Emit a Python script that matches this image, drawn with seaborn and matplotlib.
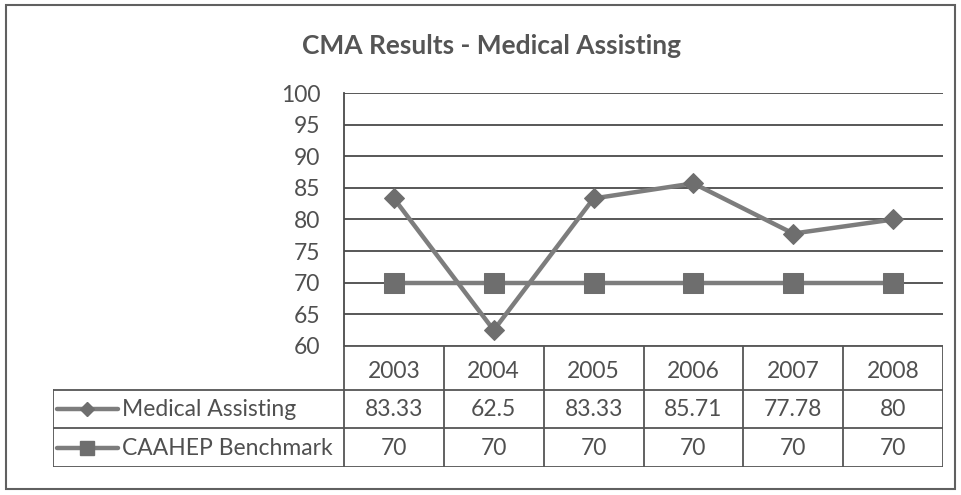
import matplotlib
matplotlib.use("Agg")
import matplotlib.pyplot as plt
import seaborn as sns
import pandas as pd
import numpy as np
from matplotlib.patches import Rectangle

years = ["2003", "2004", "2005", "2006", "2007", "2008"]
medical = [83.33, 62.5, 83.33, 85.71, 77.78, 80]
benchmark = [70, 70, 70, 70, 70, 70]
series_names = ["Medical Assisting", "CAAHEP Benchmark"]
yticks = [60, 65, 70, 75, 80, 85, 90, 95, 100]
title = "CMA Results - Medical Assisting"

sns.set_theme(style="white")
plt.rcParams["font.family"] = ["Lato", "DejaVu Sans"]

TXT = "#505050"
GRID = "#4a4a4a"
LINE = "#7d7d7d"
MARK = "#6e6e6e"
FS = 16.5

W, H = 961, 495
fig = plt.figure(figsize=(W / 100, H / 100), dpi=100)

def fx(px):
    return px / W

def fy(py):
    return 1 - py / H

# outer frame
fig.patches.append(Rectangle((fx(6), fy(489)), fx(955) - fx(6), fy(5) - fy(489),
                             transform=fig.transFigure, fill=False,
                             edgecolor="#606060", lw=1.5))

# main plot
left, right, top, bottom = 344, 943, 93, 346
ax = fig.add_axes([fx(left), fy(bottom), fx(right) - fx(left), fy(top) - fy(bottom)])
pos = np.arange(len(years))
df = pd.DataFrame({"pos": np.concatenate([pos, pos]),
                   "value": medical + benchmark,
                   "series": [series_names[0]] * len(years) + [series_names[1]] * len(years)})

for yv in yticks:
    ax.axhline(yv, color=GRID, lw=1.3, zorder=0)

sns.lineplot(data=df[df.series == series_names[1]], x="pos", y="value", ax=ax,
             color=LINE, lw=3.2, marker="s", markersize=14,
             markerfacecolor=MARK, markeredgecolor=MARK, legend=False, zorder=3)
sns.lineplot(data=df[df.series == series_names[0]], x="pos", y="value", ax=ax,
             color=LINE, lw=3.2, marker="D", markersize=10,
             markerfacecolor=MARK, markeredgecolor=MARK, legend=False, zorder=4)

ax.set_xlim(-0.5, len(years) - 0.5)
ax.set_ylim(60, 100)
ax.set_yticks(yticks)
ax.set_yticklabels([str(v) for v in yticks], fontsize=FS, color=TXT)
ax.set_xticks([])
ax.set_xlabel("")
ax.set_ylabel("")
ax.tick_params(axis="y", length=0, pad=17)
for s in ["top", "right", "bottom"]:
    ax.spines[s].set_visible(False)
ax.spines["left"].set_color(GRID)
ax.spines["left"].set_linewidth(1.3)
ax.patch.set_alpha(0)

fig.text(fx(491), fy(46), title, ha="center", va="center", fontsize=19,
         fontweight="bold", color="#555555")

# data table below
tleft, tbottom = 53, 467
cw = (right - left) / len(years)
L = (left - tleft) / cw
tx = fig.add_axes([fx(tleft), fy(tbottom), fx(right) - fx(tleft), fy(bottom) - fy(tbottom)])
tx.set_xlim(-0.5 - L, len(years) - 0.5)
tx.set_ylim(tbottom - bottom, 0)
tx.axis("off")
rows = [0, 44, 82, 121]
lc = "#555555"
lw = 1.3
tx.plot([-0.5, len(years) - 0.5], [rows[0], rows[0]], color=lc, lw=lw)
for r in rows[1:]:
    tx.plot([-0.5 - L, len(years) - 0.5], [r, r], color=lc, lw=lw)
for i in range(len(years) + 1):
    tx.plot([i - 0.5, i - 0.5], [rows[0], rows[3]], color=lc, lw=lw)
tx.plot([-0.5 - L, -0.5 - L], [rows[1], rows[3]], color=lc, lw=lw)

for i, yr in enumerate(years):
    tx.text(i, (rows[0] + rows[1]) / 2 + 3, yr, ha="center", va="center", fontsize=FS, color=TXT)
for ri, vals in enumerate([medical, benchmark]):
    yc = (rows[ri + 1] + rows[ri + 2]) / 2 + 1
    for i, v in enumerate(vals):
        tx.text(i, yc, f"{v:g}", ha="center", va="center", fontsize=FS, color=TXT)

# legend keys in table
kx0 = -0.5 - L + 4 / cw
kx1 = -0.5 - L + 65 / cw
km = (kx0 + kx1) / 2
markers = ["D", "s"]
msz = [7, 10]
for ri, name in enumerate(series_names):
    yc = (rows[ri + 1] + rows[ri + 2]) / 2
    tx.plot([kx0, kx1], [yc, yc], color=LINE, lw=3.2)
    tx.plot([km], [yc], marker=markers[ri], markersize=msz[ri], color=MARK)
    tx.text(-0.5 - L + 69 / cw, yc + 1, name, ha="left", va="center", fontsize=FS, color=TXT)

fig.savefig("out.png", dpi=100, facecolor="white")
